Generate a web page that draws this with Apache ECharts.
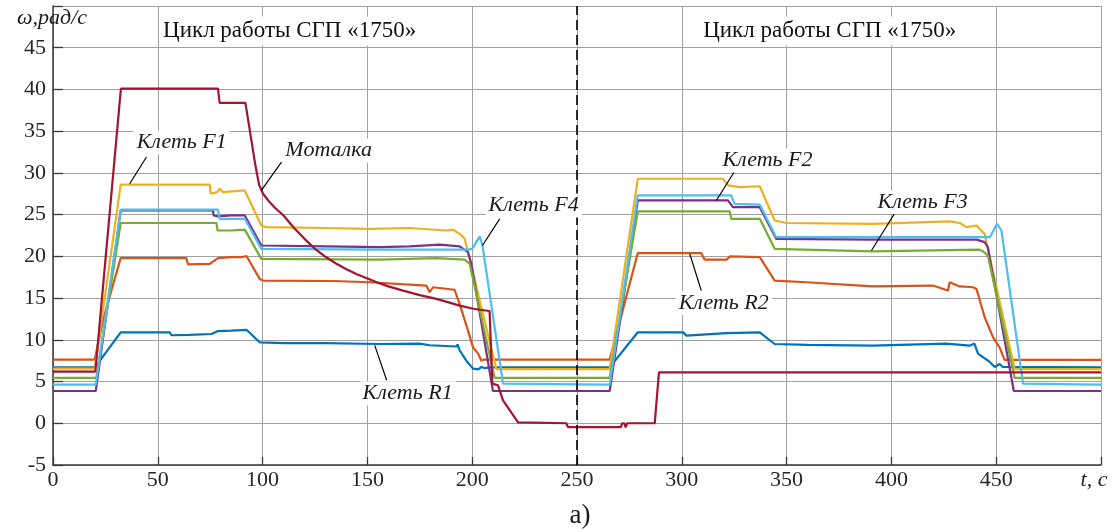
<!DOCTYPE html>
<html>
<head>
<meta charset="utf-8">
<script src="https://cdn.jsdelivr.net/npm/echarts@6/dist/echarts.min.js"></script>
<style>
html,body{margin:0;padding:0;background:#fff;}
#c{width:1120px;height:532px;}
</style>
</head>
<body>
<div id="c"></div>
<script>
// ---- data (t, c ; ω, рад/с) ----
const xTicks = [0, 50, 100, 150, 200, 250, 300, 350, 400, 450, 500];
const yTicks = [-5, 0, 5, 10, 15, 20, 25, 30, 35, 40, 45];

const R1 = [[0,6.7],[20,6.7],[21.5,7.2],[32.3,10.9],[55.7,10.9],[56.5,10.55],[65,10.6],[75.6,10.7],[78.7,11.05],[85,11.1],[92.3,11.2],[98.6,9.7],[110,9.6],[130,9.6],[155.9,9.5],[175,9.55],[179.7,9.35],[192.5,9.2],[193,9.45],[194,8.75],[197.2,7.5],[200.4,6.55],[203,6.45],[204.4,6.75],[206,6.6],[208.3,6.7],[265.6,6.7],[279,10.9],[300.6,10.9],[302.2,10.5],[321.3,10.8],[337.2,10.9],[344.3,9.5],[360,9.4],[391,9.3],[426.2,9.55],[437.3,9.3],[439.6,9.55],[441.3,8.35],[446.9,7.35],[449.3,6.75],[451.6,7.1],[453.1,6.75],[500,6.7]];

const R2 = [[0,7.63],[19.9,7.63],[24,12.5],[32.3,19.8],[63.6,19.8],[64.4,19.05],[74.8,19.1],[76.5,19.4],[78.7,19.8],[85,19.9],[90,19.9],[92.3,20.05],[98.6,17.3],[100.2,17.1],[133.6,17.05],[151,16.9],[178.1,16.5],[179.7,15.7],[181.3,16.3],[191.6,16.0],[194,14.3],[198,11.1],[200.4,9.1],[202.8,8.35],[204.4,7.5],[205.5,7.63],[265.6,7.63],[279,20.4],[309.3,20.4],[310.9,19.6],[321.3,19.6],[323,20.0],[337.2,19.9],[344.3,17.1],[359.4,16.9],[391,16.4],[419.8,16.5],[427,15.9],[427.8,16.9],[432.6,16.4],[439,16.3],[440.6,16.1],[444.5,12.7],[448.5,10.3],[451.6,9.1],[454,7.6],[500,7.6]];

const F1 = [[0,6.55],[19.9,6.55],[32.3,28.6],[74.8,28.6],[75.2,27.5],[78.3,27.7],[79.5,28.1],[81,27.7],[91.5,27.9],[99.4,23.7],[101.8,23.5],[130,23.4],[151,23.3],[170,23.4],[187.7,23.1],[190.8,23.2],[194,22.7],[196.4,22.1],[198,20.5],[211.5,6.5],[265.6,6.5],[279,29.3],[319.7,29.3],[322,28.5],[327.6,28.3],[337.2,28.4],[344.3,24.3],[349.9,24.0],[391,23.9],[427.8,24.2],[432.6,24.0],[435.8,23.5],[440.6,23.7],[442,23.3],[444.5,22.7],[445.3,21.7],[458.8,6.5],[500,6.5]];

const F2 = [[0,3.87],[20.4,3.87],[32.3,25.5],[76.3,25.5],[76.6,24.9],[78.7,24.8],[85,24.9],[91.5,24.9],[99.4,21.3],[130,21.2],[155.9,21.1],[170,21.2],[184.5,21.4],[194,21.2],[198,20.5],[199.6,19.1],[209.9,3.87],[265.6,3.87],[279,26.7],[322,26.7],[324.4,25.9],[337.2,25.9],[345,22.1],[391,22.0],[437.3,22.0],[440.6,22.0],[444.5,21.7],[446,21.1],[458.4,3.87],[500,3.87]];

const F3 = [[0,5.45],[20.7,5.45],[32.3,24.0],[78,24.0],[78.5,23.1],[85,23.1],[91.5,23.2],[99.4,19.7],[155.9,19.6],[182.9,19.8],[196.4,19.6],[198.8,19.1],[210.7,5.45],[265.6,5.45],[279,25.4],[322.8,25.4],[323.6,24.5],[337.2,24.5],[344.3,20.9],[391,20.6],[442,20.8],[443.7,20.6],[446,20.1],[458.8,5.45],[500,5.45]];

const F4 = [[0,4.63],[20.4,4.63],[32.3,25.6],[78.7,25.6],[79.5,24.5],[91.5,24.5],[99.4,20.9],[155.9,20.8],[198,20.8],[200,20.9],[203.6,22.4],[204.9,21.3],[214.7,4.75],[215.2,4.63],[265.6,4.63],[279,27.3],[323.6,27.3],[325.2,26.3],[337.2,26.2],[345,22.3],[447,22.3],[450.4,23.9],[452.5,23.1],[462.8,4.75],[463.6,4.63],[500,4.63]];

const Motalka = [[0,6.2],[20.2,6.2],[32.4,40.1],[78.7,40.1],[79.5,38.4],[91.8,38.4],[96.5,31.0],[98.3,28.6],[100.2,27.5],[103,26.6],[106,25.8],[110,24.9],[115,23.4],[120,22.1],[125,20.9],[130,19.95],[135,19.15],[140,18.45],[145,17.85],[150,17.35],[155,16.85],[160,16.4],[167,15.9],[175,15.35],[182.9,14.9],[190,14.4],[194,14.1],[200,13.75],[203.6,13.6],[208.3,13.45],[209.6,4.75],[212.3,4.55],[214.7,2.75],[221.9,0.1],[222.5,0],[244.9,0],[245.7,-0.45],[270.9,-0.45],[271.6,0],[272.6,0],[273.2,-0.5],[273.9,0],[287.1,0],[289.1,6.1],[500,6.1]];

const cycleLine = 250;
const titleText = 'Цикл работы СГП «1750»';

// ---- annotation layout (data coordinates) ----
const titles = [
  {text: titleText, at: [112.9, 47.0]},
  {text: titleText, at: [370.6, 47.0]}
];
const notes = [
  {text: 'Клеть F1', at: [61.4, 33.65], from: [44.6, 31.9], to: [36.6, 28.7]},
  {text: 'Моталка',  at: [131.5, 32.7], from: [109, 31.3], to: [99.4, 27.9]},
  {text: 'Клеть F4', at: [229.3, 26.1], from: [213.1, 24.5], to: [204.9, 21.3]},
  {text: 'Клеть R1', at: [169.2, 3.6], from: [153.5, 9.34], to: [159.2, 5.15]},
  {text: 'Клеть F2', at: [340.9, 31.5], from: [325.2, 30.2], to: [316.5, 26.7]},
  {text: 'Клеть F3', at: [414.9, 26.5], from: [402.4, 25.5], to: [390.5, 20.7]},
  {text: 'Клеть R2', at: [320, 14.4], from: [309.3, 15.9], to: [303.8, 20.3]}
];

const SERIF = '"Liberation Serif","Times New Roman",serif';
const chart = echarts.init(document.getElementById('c'), null, {renderer: 'canvas'});

function mkSeries(name, data, color, extra) {
  return Object.assign({
    name, type: 'line', data, showSymbol: false, symbol: 'none',
    lineStyle: {color, width: 2.2}, itemStyle: {color}, animation: false, silent: true
  }, extra || {});
}

chart.setOption({
  animation: false,
  backgroundColor: '#fff',
  grid: {left: 53, right: 19, top: 6, bottom: 67, containLabel: false},
  xAxis: {
    type: 'value', min: xTicks[0], max: xTicks[xTicks.length - 1], interval: 50,
    axisLine: {show: true, onZero: false, lineStyle: {color: '#3a3a3a', width: 1.5}},
    axisTick: {show: true, inside: true, length: 8, lineStyle: {color: '#3a3a3a', width: 1.3}},
    axisLabel: {
      show: true, margin: 4, color: '#262626', fontFamily: SERIF, fontSize: 22,
      showMinLabel: true, showMaxLabel: true,
      formatter: v => v === 500 ? '{i|t, с}' : String(v),
      rich: {i: {fontStyle: 'italic', fontFamily: SERIF, fontSize: 22, color: '#262626', padding: [0, 14, 0, 0]}}
    },
    splitLine: {show: true, lineStyle: {color: '#a0a0a0', width: 1}}
  },
  yAxis: {
    type: 'value', min: -5, max: 50, interval: 5,
    axisLine: {show: true, onZero: false, lineStyle: {color: '#3a3a3a', width: 1.5}},
    axisTick: {show: true, inside: true, length: 10, lineStyle: {color: '#3a3a3a', width: 1.3}},
    axisLabel: {
      show: true, margin: 7, color: '#262626', fontFamily: SERIF, fontSize: 22,
      showMinLabel: true, showMaxLabel: true,
      formatter: v => yTicks.indexOf(v) >= 0 ? String(v) : ''
    },
    splitLine: {show: true, lineStyle: {color: '#a0a0a0', width: 1}}
  },
  series: [
    mkSeries('Клеть R1', R1, '#0072BD'),
    mkSeries('Клеть R2', R2, '#D95319'),
    mkSeries('Клеть F1', F1, '#EDB120'),
    mkSeries('Клеть F2', F2, '#7E2F8E'),
    mkSeries('Клеть F3', F3, '#77AC30'),
    mkSeries('Клеть F4', F4, '#4DBEEE'),
    mkSeries('Моталка', Motalka, '#A2142F', {
      markLine: {
        silent: true, symbol: ['none', 'none'], animation: false,
        label: {show: false},
        lineStyle: {color: '#000', type: [10, 5], width: 1.6},
        data: [{xAxis: cycleLine}]
      }
    })
  ]
});

const P = p => chart.convertToPixel({gridIndex: 0}, p);
const graphics = [];
titles.forEach(t => {
  const p = P(t.at);
  graphics.push({type: 'text', x: p[0], y: p[1], z: 100,
    style: {text: t.text, font: '23px ' + SERIF, fill: '#111', align: 'center', verticalAlign: 'middle',
      textAlign: 'center', textVerticalAlign: 'middle', backgroundColor: '#fff', padding: [3, 4]}});
});
notes.forEach(n => {
  const a = P(n.from), b = P(n.to), p = P(n.at);
  graphics.push({type: 'line', z: 99, shape: {x1: a[0], y1: a[1], x2: b[0], y2: b[1]},
    style: {stroke: '#000', lineWidth: 1.2}});
  graphics.push({type: 'text', x: p[0], y: p[1], z: 100,
    style: {text: n.text, font: 'italic 22px ' + SERIF, fill: '#1a1a1a', align: 'center', verticalAlign: 'middle',
      textAlign: 'center', textVerticalAlign: 'middle', backgroundColor: '#fff', padding: [1, 3]}});
});
graphics.push({type: 'text', x: 17, y: 18, z: 100,
  style: {text: 'ω,рад/с', font: 'italic 22px ' + SERIF, fill: '#1a1a1a', align: 'left', verticalAlign: 'middle',
    textAlign: 'left', textVerticalAlign: 'middle'}});
graphics.push({type: 'text', x: 580, y: 516, z: 100,
  style: {text: 'а)', font: '27px ' + SERIF, fill: '#1a1a1a', align: 'center', verticalAlign: 'middle',
    textAlign: 'center', textVerticalAlign: 'middle'}});
chart.setOption({graphic: graphics});
</script>
</body>
</html>
